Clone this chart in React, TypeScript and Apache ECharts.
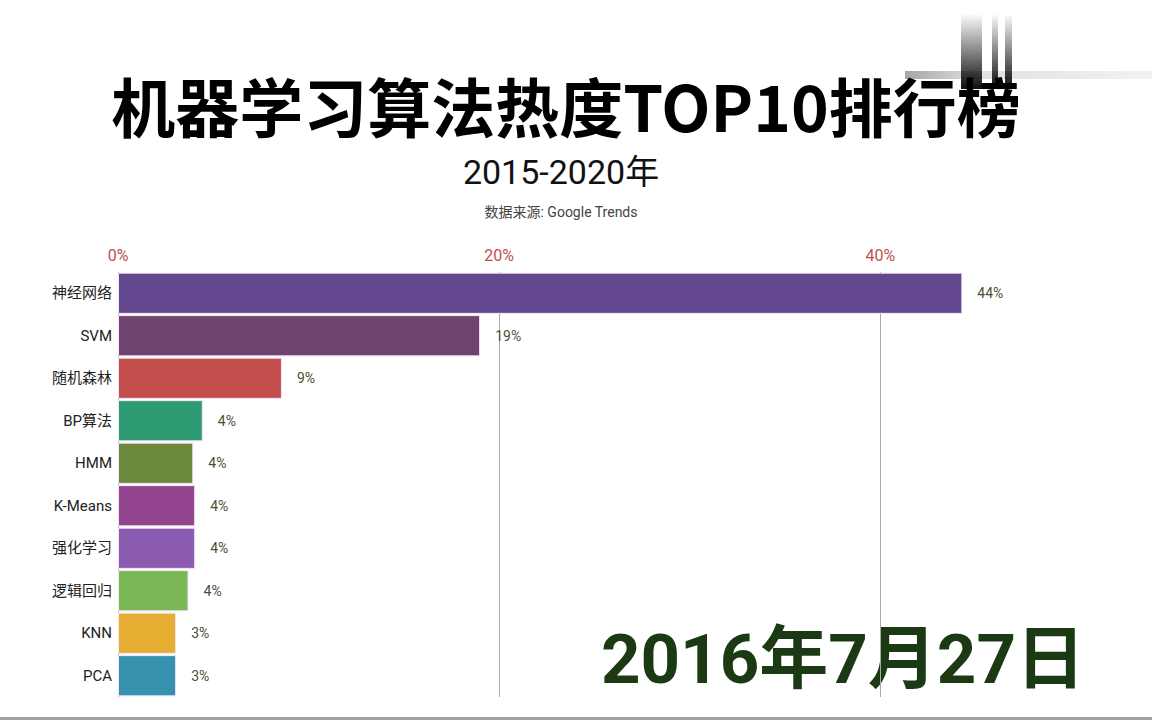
import React, { useEffect, useRef } from "react";
import * as echarts from "echarts";

const categories = ["神经网络", "SVM", "随机森林", "BP算法", "HMM", "K-Means", "强化学习", "逻辑回归", "KNN", "PCA"];
const values = [44.3, 19.0, 8.6, 4.45, 3.95, 4.05, 4.05, 3.7, 3.05, 3.05];
const barColors = ["#63478f", "#70426e", "#c44e4b", "#2f9b72", "#6b883d", "#94458f", "#8c5cb0", "#7ab856", "#e6ad33", "#3591ad"];
const titleText = "机器学习算法热度TOP10排行榜";
const subtitleText = "2015-2020年";
const sourceText = "数据来源: Google Trends";
const dateText = "2016年7月27日";

export default function App() {
  const ref = useRef<HTMLDivElement>(null);
  useEffect(() => {
    document.body.style.margin = "0";
    const chart = echarts.init(ref.current!, null, { renderer: "svg" });
    const vGrad = (x: number, w: number) => ({
      type: "rect",
      shape: { x, y: 15, width: w, height: 74 },
      style: {
        fill: new echarts.graphic.LinearGradient(0, 0, 0, 1, [
          { offset: 0, color: "rgba(0,0,0,0.02)" },
          { offset: 1, color: "rgba(0,0,0,0.95)" },
        ]),
      },
      silent: true,
    });
    chart.setOption({
      animation: false,
      backgroundColor: "#ffffff",
      grid: { left: 118, top: 272, right: 81, bottom: 23 },
      xAxis: {
        type: "value",
        position: "top",
        min: 0,
        max: 50,
        interval: 20,
        axisLine: { show: false },
        axisTick: { show: false },
        axisLabel: {
          formatter: (v: number) => v + "%",
          color: "#c0504d",
          fontSize: 16,
          fontFamily: "Roboto",
          margin: 9,
          showMaxLabel: false,
        },
        splitLine: { showMaxLine: false, lineStyle: { color: "#a8a8a8", width: 1 } },
      },
      yAxis: {
        type: "category",
        inverse: true,
        data: categories,
        axisLine: { show: true, lineStyle: { color: "#bbbbbb", width: 1 } },
        axisTick: { show: false },
        axisLabel: {
          color: "#222222",
          fontSize: 15,
          fontFamily: "Roboto, 'Noto Sans CJK SC'",
          margin: 6,
        },
      },
      series: [
        {
          type: "bar",
          barCategoryGap: "3%",
          data: values.map((v, i) => ({
            value: v,
            itemStyle: { color: barColors[i], borderColor: "#f3e6f5", borderWidth: 1 },
          })),
          label: {
            show: true,
            position: "right",
            distance: 15,
            formatter: (p: any) => Math.round(p.value) + "%",
            color: "#4d4d33",
            fontSize: 14,
            fontFamily: "Roboto",
          },
        },
      ],
      graphic: [
        {
          type: "rect",
          shape: { x: 905, y: 71, width: 247, height: 8 },
          style: {
            fill: new echarts.graphic.LinearGradient(0, 0, 1, 0, [
              { offset: 0, color: "rgba(0,0,0,0.35)" },
              { offset: 0.3, color: "rgba(0,0,0,0.12)" },
              { offset: 1, color: "rgba(0,0,0,0.05)" },
            ]),
          },
          silent: true,
        },
        vGrad(961, 21),
        vGrad(992, 6),
        vGrad(1005, 7),
        {
          type: "text",
          x: 566,
          y: 104,
          style: {
            text: titleText,
            fontSize: 64,
            fontWeight: "bold",
            fill: "#000000",
            fontFamily: "'Noto Sans CJK SC'",
            align: "center",
            verticalAlign: "middle",
          },
        },
        {
          type: "text",
          x: 561,
          y: 172,
          style: {
            text: subtitleText,
            fontSize: 34,
            fill: "#111111",
            fontFamily: "Roboto, 'Noto Sans CJK SC'",
            align: "center",
            verticalAlign: "middle",
          },
        },
        {
          type: "text",
          x: 561,
          y: 212,
          style: {
            text: sourceText,
            fontSize: 14,
            fill: "#444444",
            fontFamily: "Roboto, 'Noto Sans CJK SC'",
            align: "center",
            verticalAlign: "middle",
          },
        },
        {
          type: "text",
          x: 1085,
          y: 659,
          style: {
            text: dateText,
            fontSize: 69,
            fontWeight: "bold",
            fill: "#1b3a13",
            fontFamily: "Roboto, 'Noto Sans CJK SC'",
            align: "right",
            verticalAlign: "middle",
          },
        },
        {
          type: "rect",
          shape: { x: 0, y: 717, width: 1152, height: 3 },
          style: { fill: "#a0a0a0" },
          silent: true,
        },
      ],
    });
    return () => chart.dispose();
  }, []);
  return <div ref={ref} style={{ width: 1152, height: 720 }} />;
}
